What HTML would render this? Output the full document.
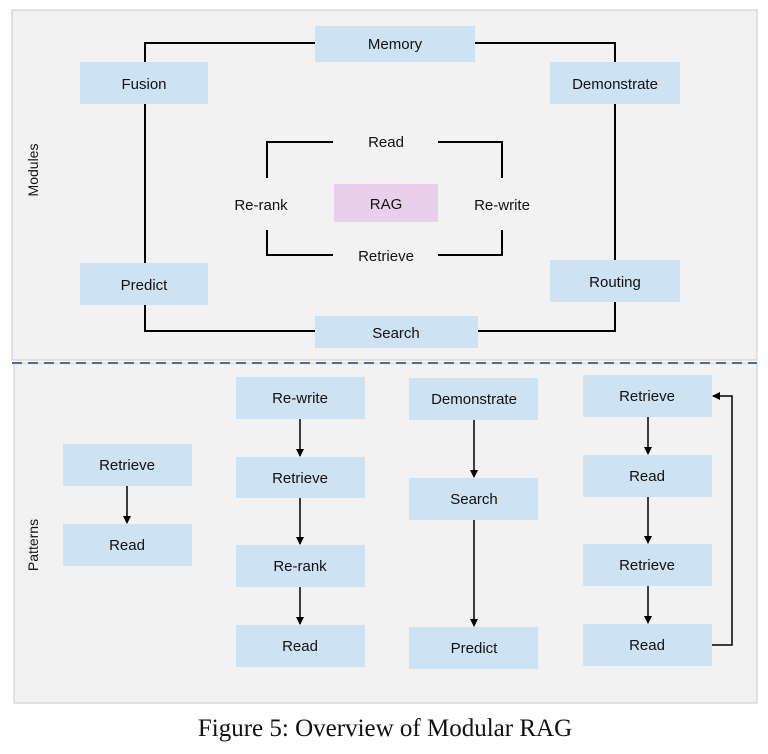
<!DOCTYPE html>
<html><head><style>body{margin:0;background:#fff}svg{display:block}</style></head><body>
<svg width="768" height="754" viewBox="0 0 768 754" xmlns="http://www.w3.org/2000/svg" font-family="Liberation Sans, sans-serif" font-size="15" text-anchor="middle">
<defs><marker id="a" markerWidth="8" markerHeight="8" refX="7" refY="4" orient="auto" markerUnits="userSpaceOnUse"><path d="M0,0 L8,4 L0,8 z" fill="#000"/></marker></defs>
<rect x="12" y="10" width="745" height="350" fill="#f2f2f2" stroke="#c8c8c8"/>
<rect x="14" y="363" width="743" height="340" fill="#f2f2f2" stroke="#c8c8c8"/>
<line x1="12" y1="363" x2="757" y2="363" stroke="#41719c" stroke-width="2" stroke-dasharray="10,6"/>
<g fill="none" stroke="#000" stroke-width="2">
<rect x="145" y="43" width="470" height="288"/>
<path d="M333,142 H267 V178 M438,142 H502 V178 M267,230 V255 H333 M502,230 V255 H438"/>
</g>
<g fill="#cde3f3">
<rect x="315" y="26" width="160" height="36"/>
<rect x="80" y="62" width="128" height="42"/>
<rect x="550" y="62" width="130" height="42"/>
<rect x="80" y="263" width="128" height="42"/>
<rect x="550" y="260" width="130" height="42"/>
<rect x="315" y="316" width="163" height="32"/>
<rect x="63" y="444" width="129" height="42"/><rect x="63" y="524" width="129" height="42"/>
<rect x="236" y="377" width="129" height="42"/><rect x="236" y="457" width="129" height="41"/><rect x="236" y="545" width="129" height="42"/><rect x="236" y="625" width="129" height="42"/>
<rect x="409" y="378" width="129" height="42"/><rect x="409" y="478" width="129" height="42"/><rect x="409" y="627" width="129" height="42"/>
<rect x="583" y="375" width="129" height="42"/><rect x="583" y="455" width="129" height="42"/><rect x="583" y="544" width="129" height="42"/><rect x="583" y="624" width="129" height="42"/>
</g>
<rect x="334" y="184" width="104" height="38" fill="#e8d0ea"/>
<g stroke="#000" stroke-width="1.5" marker-end="url(#a)">
<line x1="127" y1="486" x2="127" y2="523"/>
<line x1="300" y1="419" x2="300" y2="456"/><line x1="300" y1="498" x2="300" y2="544"/><line x1="300" y1="587" x2="300" y2="624"/>
<line x1="474" y1="420" x2="474" y2="477"/><line x1="474" y1="520" x2="474" y2="626"/>
<line x1="648" y1="417" x2="648" y2="454"/><line x1="648" y1="497" x2="648" y2="543"/><line x1="648" y1="586" x2="648" y2="623"/>
<path d="M712,645 H732 V396 H713" fill="none"/>
</g>
<g fill="#111">
<text x="395" y="49">Memory</text><text x="144" y="89">Fusion</text><text x="615" y="89">Demonstrate</text>
<text x="144" y="290">Predict</text><text x="615" y="287">Routing</text><text x="396" y="338">Search</text>
<text x="386" y="147">Read</text><text x="261" y="210">Re-rank</text><text x="386" y="209">RAG</text><text x="502" y="210">Re-write</text><text x="386" y="261">Retrieve</text>
<text x="127" y="470">Retrieve</text><text x="127" y="550">Read</text>
<text x="300" y="403">Re-write</text><text x="300" y="483">Retrieve</text><text x="300" y="571">Re-rank</text><text x="300" y="651">Read</text>
<text x="474" y="404">Demonstrate</text><text x="474" y="504">Search</text><text x="474" y="653">Predict</text>
<text x="647" y="401">Retrieve</text><text x="647" y="481">Read</text><text x="647" y="570">Retrieve</text><text x="647" y="650">Read</text>
<text transform="translate(38,170) rotate(-90)" font-size="14">Modules</text>
<text transform="translate(38,545) rotate(-90)" font-size="14">Patterns</text>
<text x="385" y="736" font-family="Liberation Serif, serif" font-size="25">Figure 5: Overview of Modular RAG</text>
</g>
</svg>
</body></html>
